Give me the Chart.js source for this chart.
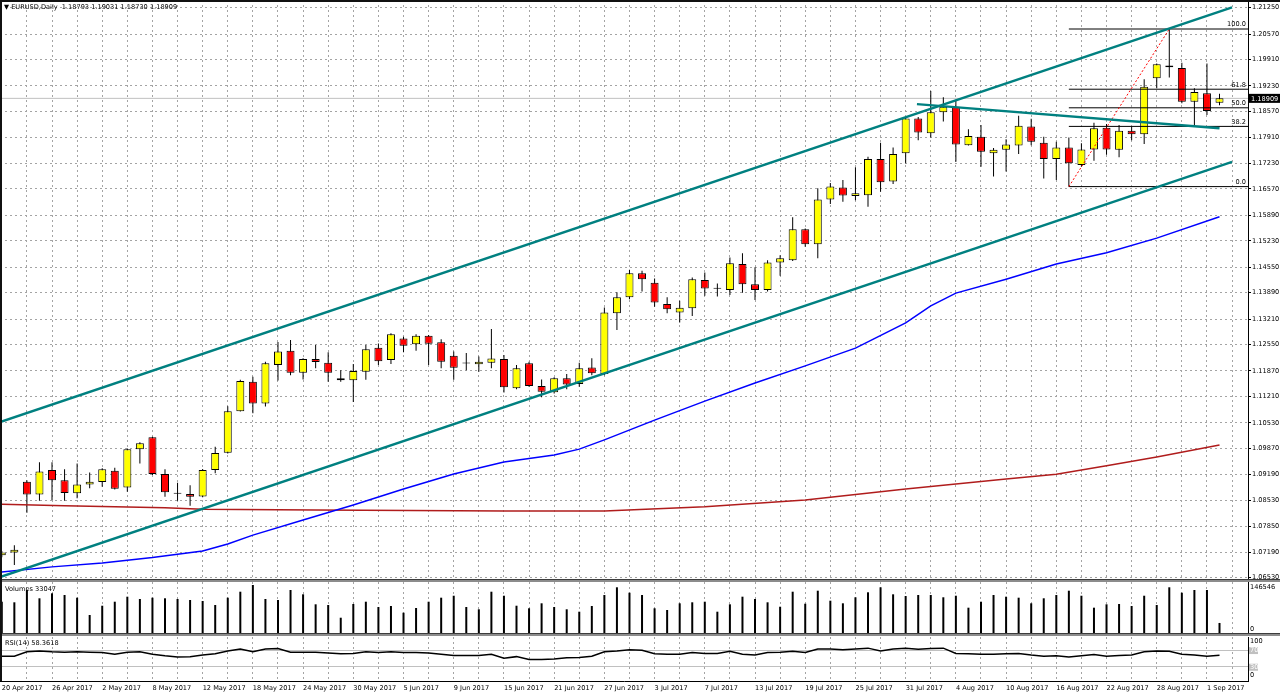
<!DOCTYPE html>
<html>
<head>
<meta charset="utf-8">
<title>EURUSD Daily</title>
<script src="https://cdn.jsdelivr.net/npm/chart.js@4.4.1/dist/chart.umd.min.js"></script>
<style>
html, body { margin: 0; padding: 0; background: #fff; }
#wrap { position: relative; width: 1280px; height: 696px; overflow: hidden; background: #fff; }
#wrap canvas { position: absolute; left: 0; }
.sep { position: absolute; left: 0; width: 1280px; height: 2px; background: #8c8c8c; border-top: 1px solid #3c3c3c; z-index: 3; }
.txt { position: absolute; font: 6.6px "DejaVu Sans", sans-serif; line-height: 8px; color: #000; white-space: pre; z-index: 4; }
.frame-top { position: absolute; left: 0; top: 0; width: 1280px; height: 2px; background: #111; z-index: 5; }
.frame-left { position: absolute; left: 0; top: 0; width: 2px; height: 681px; background: #111; z-index: 5; }
</style>
</head>
<body>
<div id="wrap">
  <canvas id="main" width="1280" height="580" style="top:0px"></canvas>
  <canvas id="vol" width="1280" height="52" style="top:582px"></canvas>
  <canvas id="rsi" width="1280" height="59" style="top:637px"></canvas>
  <div class="sep" style="top:579px"></div>
  <div class="sep" style="top:633px"></div>
  <div class="frame-top"></div>
  <div class="frame-left"></div>
  <div class="txt" id="hdr" style="left:4px; top:3px"></div>
  <div class="txt" id="volTxt" style="left:5px; top:585px"></div>
  <div class="txt" id="rsiTxt" style="left:5px; top:639px"></div>
</div>
<script>
// daily bars, 20 Apr 2017 .. 4 Sep 2017 (bar index = x)
const dateLabels = ['20 Apr 2017', '26 Apr 2017', '2 May 2017', '8 May 2017', '12 May 2017', '18 May 2017',
  '24 May 2017', '30 May 2017', '5 Jun 2017', '9 Jun 2017', '15 Jun 2017', '21 Jun 2017', '27 Jun 2017',
  '3 Jul 2017', '7 Jul 2017', '13 Jul 2017', '19 Jul 2017', '25 Jul 2017', '31 Jul 2017', '4 Aug 2017',
  '10 Aug 2017', '16 Aug 2017', '22 Aug 2017', '28 Aug 2017', '1 Sep 2017'];

const opens = [
  1.0711, 1.0718, 1.0901, 1.0868, 1.0931, 1.0905, 1.0871, 1.0894, 1.0900, 1.0929,
  1.0886, 1.0985, 1.1016, 1.0921, 1.0870, 1.0869, 1.0863, 1.0931, 1.0976, 1.1083,
  1.1159, 1.1103, 1.1202, 1.1239, 1.1182, 1.1218, 1.1208, 1.1168, 1.1163, 1.1185,
  1.1247, 1.1215, 1.1271, 1.1256, 1.1278, 1.1261, 1.1226, 1.1206, 1.1204, 1.1208,
  1.1218, 1.1142, 1.1207, 1.1148, 1.1132, 1.1168, 1.1153, 1.1196, 1.1179, 1.1336,
  1.1377, 1.1439, 1.1415, 1.1360, 1.1338, 1.1349, 1.1422, 1.1399, 1.1396, 1.1463,
  1.1411, 1.1396, 1.1467, 1.1473, 1.1553, 1.1514, 1.1630, 1.1661, 1.1639, 1.1641,
  1.1734, 1.1676, 1.1749, 1.1839, 1.1801, 1.1855, 1.1869, 1.1770, 1.1792, 1.1749,
  1.1758, 1.1769, 1.1818, 1.1776, 1.1734, 1.1764, 1.1719, 1.1759, 1.1815, 1.1758,
  1.1807, 1.1798, 1.1943, 1.1976, 1.1969, 1.1882, 1.1904, 1.18793];
const highs = [
  1.0722, 1.0737, 1.0905, 1.0951, 1.0951, 1.0933, 1.0948, 1.0925, 1.0936, 1.0937,
  1.0987, 1.1003, 1.1017, 1.0933, 1.0898, 1.0892, 1.0934, 1.0991, 1.1096, 1.1164,
  1.1172, 1.1211, 1.1262, 1.1267, 1.1220, 1.1254, 1.1235, 1.1189, 1.1205, 1.1254,
  1.1258, 1.1284, 1.1275, 1.1282, 1.1280, 1.1269, 1.1237, 1.1233, 1.1224, 1.1295,
  1.1228, 1.1202, 1.1211, 1.1165, 1.1171, 1.1179, 1.1208, 1.1220, 1.1351, 1.1390,
  1.1448, 1.1446, 1.1426, 1.1377, 1.1368, 1.1428, 1.1441, 1.1413, 1.1480, 1.1491,
  1.1455, 1.1473, 1.1486, 1.1584, 1.1555, 1.1659, 1.1672, 1.1680, 1.1713, 1.1740,
  1.1776, 1.1764, 1.1842, 1.1843, 1.1910, 1.1894, 1.1887, 1.1811, 1.1822, 1.1763,
  1.1785, 1.1846, 1.1838, 1.1792, 1.1779, 1.1790, 1.1775, 1.1828, 1.1825, 1.1822,
  1.1818, 1.1940, 1.1981, 1.2070, 1.1983, 1.1917, 1.1981, 1.19031];
const lows = [
  1.0706, 1.0686, 1.0821, 1.0852, 1.0854, 1.0852, 1.0858, 1.0884, 1.0888, 1.0881,
  1.0875, 1.0948, 1.0918, 1.0862, 1.0852, 1.0839, 1.0861, 1.0923, 1.0974, 1.1082,
  1.1078, 1.1095, 1.1162, 1.1176, 1.1165, 1.1194, 1.1159, 1.1159, 1.1107, 1.1164,
  1.1202, 1.1205, 1.1235, 1.1239, 1.1202, 1.1194, 1.1164, 1.1189, 1.1185, 1.1194,
  1.1131, 1.1140, 1.1146, 1.1119, 1.1129, 1.1140, 1.1146, 1.1176, 1.1176, 1.1293,
  1.1372, 1.1392, 1.1353, 1.1336, 1.1312, 1.1329, 1.1381, 1.1379, 1.1383, 1.1389,
  1.1370, 1.1392, 1.1433, 1.1471, 1.1508, 1.1478, 1.1618, 1.1624, 1.1628, 1.1611,
  1.1650, 1.1670, 1.1723, 1.1783, 1.1790, 1.1831, 1.1727, 1.1769, 1.1714, 1.1689,
  1.1702, 1.1747, 1.1770, 1.1684, 1.1680, 1.1663, 1.1714, 1.1730, 1.1745, 1.1739,
  1.1783, 1.1773, 1.1917, 1.1945, 1.1878, 1.1818, 1.1848, 1.18730];
const closes = [
  1.0718, 1.0725, 1.0868, 1.0927, 1.0905, 1.0872, 1.0894, 1.0901, 1.0933, 1.0883,
  1.0985, 1.1000, 1.0921, 1.0874, 1.0870, 1.0862, 1.0931, 1.0975, 1.1083, 1.1161,
  1.1103, 1.1207, 1.1237, 1.1182, 1.1218, 1.1210, 1.1182, 1.1163, 1.1187, 1.1243,
  1.1212, 1.1282, 1.1252, 1.1278, 1.1257, 1.1211, 1.1195, 1.1206, 1.1211, 1.1219,
  1.1145, 1.1194, 1.1148, 1.1133, 1.1168, 1.1152, 1.1194, 1.1181, 1.1338, 1.1377,
  1.1439, 1.1424, 1.1364, 1.1346, 1.1350, 1.1424, 1.1400, 1.1399, 1.1465, 1.1411,
  1.1396, 1.1467, 1.1478, 1.1553, 1.1514, 1.1630, 1.1663, 1.1640, 1.1646, 1.1734,
  1.1674, 1.1747, 1.1839, 1.1803, 1.1855, 1.1869, 1.1772, 1.1794, 1.1753, 1.1758,
  1.1772, 1.1820, 1.1779, 1.1734, 1.1764, 1.1723, 1.1759, 1.1814, 1.1759, 1.1807,
  1.1798, 1.1921, 1.1979, 1.1971, 1.1882, 1.1907, 1.1858, 1.18909];
const volumes = [
  96600, 94800, 131600, 106800, 121700, 116600, 108600, 56800, 84600, 96600,
  111600, 104700, 108600, 106800, 104700, 101700, 98700, 86700, 108600, 126500,
  146546, 104700, 101700, 131600, 118700, 88800, 86700, 48700, 89700, 96600,
  80700, 83700, 63700, 77800, 96600, 108600, 114500, 80700, 73900, 126500,
  114500, 84600, 76900, 91800, 80700, 73900, 66700, 83700, 116600, 139700,
  123500, 116600, 76900, 71800, 91800, 94800, 96600, 66700, 88800, 111600,
  104700, 94800, 81600, 126500, 90600, 129500, 99600, 91800, 109800, 124700,
  139700, 118700, 113600, 116600, 116600, 109800, 114500, 78700, 96600, 116600,
  111600, 108600, 91800, 106800, 116600, 129500, 114500, 78700, 88800, 89700,
  83700, 114500, 86700, 139700, 123500, 131600, 131600, 33047];
const rsi = [
  56, 56, 67, 69, 67, 66, 67, 66, 65, 61,
  66, 67, 61, 57, 54, 55, 59, 62, 69, 74,
  67, 74, 75, 66, 66, 66, 64, 62, 63, 67,
  65, 67, 65, 65, 64, 61, 58, 58, 58, 61,
  51, 55, 48, 48, 49, 52, 53, 56, 67, 69,
  72, 71, 62, 61, 61, 65, 63, 63, 68, 61,
  59, 65, 66, 68, 65, 74, 74, 72, 74, 76,
  69, 74, 76, 73, 75, 76, 63, 62, 61, 61,
  62, 63, 59, 56, 57, 54, 57, 60, 56, 58,
  59, 67, 69, 68, 61, 59, 56, 58.3618];

// moving averages at a few bars
const maFastBars = [0, 4, 8, 12, 16, 18, 20, 24, 28, 32, 36, 40, 44, 46, 48, 52, 56, 60, 64, 68, 72, 74, 76, 80, 84, 88, 92, 97];
const maFast = [1.0668, 1.0681, 1.0691, 1.0705, 1.0722, 1.0740, 1.0763, 1.0802, 1.0841, 1.0882, 1.0921, 1.0952,
  1.0970, 1.0985, 1.1009, 1.1060, 1.1109, 1.1156, 1.1200, 1.1246, 1.1311, 1.1355, 1.1388, 1.1424, 1.1463,
  1.1492, 1.1530, 1.1585];
const maSlowBars = [0, 5, 13, 16, 25, 40, 48, 56, 64, 72, 80, 84, 88, 92, 97];
const maSlow = [1.0843, 1.0839, 1.0834, 1.0830, 1.0828, 1.0825, 1.0825, 1.0836, 1.0854, 1.0882, 1.0908, 1.0920,
  1.0942, 1.0965, 1.0996];

// drawn objects
const channelBars = [-0.14, 98];
const channelUpper = [1.1055, 1.2126];
const channelLower = [1.0655, 1.1727];
const flatBars = [72.9, 97];
const flatLine = [1.1876, 1.1814];
const fibBars = [85, 93];
const fibLow = 1.1663, fibHigh = 1.2070;
const fibLevels = [0, 38.2, 50, 61.8, 100];

const priceTicks = [1.21250, 1.20570, 1.19910, 1.19230, 1.18570, 1.17910, 1.17230, 1.16570, 1.15890, 1.15230,
  1.14550, 1.13890, 1.13210, 1.12550, 1.11870, 1.11210, 1.10530, 1.09870, 1.09190, 1.08530, 1.07850,
  1.07190, 1.06530];
const rsiLevels = [30, 70];

const X_MIN = -0.143, X_MAX = 99.27;
const FONT = { family: 'DejaVu Sans', size: 6.6 };
const FONT_CSS = '6.6px "DejaVu Sans"';
const GRID = '#a4a4a4';
const last = closes.length - 1;
const fibValue = l => fibLow + (fibHigh - fibLow) * l / 100;
const pts = (xs, ys) => xs.map((x, i) => ({ x: x, y: ys[i] }));

const gridBars = [];
for (let i = 0; i <= 98; i += 2) gridBars.push(i);

function xAxis(showDates) {
  return {
    type: 'linear', min: X_MIN, max: X_MAX, offset: false,
    afterBuildTicks: s => { s.ticks = gridBars.map(v => ({ value: v })); },
    afterFit: s => { s.height = showDates ? 15 : 0; s.paddingLeft = 0; s.paddingRight = 0; },
    grid: { color: GRID, offset: false, drawTicks: false },
    border: { display: showDates, color: '#000', dash: [2, 3] },
    ticks: {
      display: showDates, autoSkip: false, maxRotation: 0, minRotation: 0, align: 'start',
      padding: 3, font: FONT, color: '#000',
      callback: v => (v % 4 === 0 && dateLabels[v / 4]) || ''
    }
  };
}

function fitRight(s) { s.width = 32; s.paddingTop = 0; s.paddingBottom = 0; }

function baseOptions(yAxis, showDates) {
  return {
    responsive: false, animation: false, events: [],
    layout: { padding: 0 },
    plugins: { legend: { display: false }, tooltip: { enabled: false } },
    scales: { x: xAxis(showDates), y: yAxis }
  };
}

function sideText(items) {
  return {
    id: 'sideText',
    afterDraw(chart) {
      const { ctx, chartArea: a, scales: { y } } = chart;
      ctx.save();
      ctx.font = FONT_CSS;
      ctx.textBaseline = 'middle';
      ctx.textAlign = 'left';
      items.forEach(it => {
        const py = y.getPixelForValue(it.value) + it.dy;
        if (it.box) { ctx.fillStyle = it.box; ctx.fillRect(a.right + 1, py - 3.5, 9, 7); }
        ctx.fillStyle = it.color || '#000';
        ctx.fillText(it.text, a.right + 2, py);
      });
      ctx.restore();
    }
  };
}

const mainText = {
  id: 'mainText',
  afterDraw(chart) {
    const { ctx, chartArea: a, scales: { y } } = chart;
    ctx.save();
    ctx.font = FONT_CSS;
    ctx.fillStyle = '#000';
    ctx.textAlign = 'right';
    ctx.textBaseline = 'bottom';
    fibLevels.forEach(l => ctx.fillText(l.toFixed(1), a.right - 2, y.getPixelForValue(fibValue(l)) - 1));
    const py = y.getPixelForValue(closes[last]);
    ctx.fillRect(a.right + 1, py - 4.5, 31, 9);
    ctx.fillStyle = '#fff';
    ctx.textAlign = 'left';
    ctx.textBaseline = 'middle';
    ctx.fillText(closes[last].toFixed(5), a.right + 3, py + 0.5);
    ctx.restore();
  }
};

const lineSet = (data, color, width, order, dash) => ({
  type: 'line', data: data, borderColor: color, borderWidth: width, borderDash: dash || [],
  pointRadius: 0, tension: 0, fill: false, order: order
});

const bodyColors = opens.map((o, i) => closes[i] > o ? '#ffff00' : (closes[i] < o ? '#ff0000' : '#000000'));

const mainSets = [
  lineSet(pts(channelBars, channelUpper), '#008080', 2.5, 0),
  lineSet(pts(channelBars, channelLower), '#008080', 2.5, 0),
  lineSet(pts(flatBars, flatLine), '#008080', 2.5, 0),
  lineSet(pts(fibBars, [fibLow, fibHigh]), '#ff0000', 1, 1, [2, 2]),
  ...fibLevels.map(l => lineSet(pts([fibBars[0], X_MAX], [fibValue(l), fibValue(l)]), '#000', 1, 1)),
  lineSet(pts(maFastBars, maFast), '#0000ff', 1.5, 2),
  lineSet(pts(maSlowBars, maSlow), '#b01c1c', 1.5, 2),
  {
    type: 'bar', order: 3, grouped: false, maxBarThickness: 8, minBarLength: 1,
    data: opens.map((o, i) => ({ x: i, y: [o, closes[i]] })),
    backgroundColor: bodyColors, borderColor: '#000', borderWidth: 1, borderSkipped: false
  },
  {
    type: 'bar', order: 4, grouped: false, maxBarThickness: 1,
    data: lows.map((l, i) => ({ x: i, y: [l, highs[i]] })),
    backgroundColor: '#000', borderWidth: 0
  },
  lineSet(pts([X_MIN, X_MAX], [closes[last], closes[last]]), '#c0c0c0', 1, 5)
];

new Chart(document.getElementById('main'), {
  type: 'bar',
  data: { datasets: mainSets },
  options: baseOptions({
    position: 'right', min: 1.06471, max: 1.21449,
    afterBuildTicks: s => { s.ticks = priceTicks.map(v => ({ value: v })); },
    afterFit: fitRight,
    grid: { color: GRID, drawTicks: true, tickLength: 3, tickColor: '#000', tickWidth: 1 },
    border: { display: true, color: '#000', width: 1, dash: [2, 3] },
    ticks: { font: FONT, color: '#000', padding: 1, callback: v => v.toFixed(5) }
  }, false),
  plugins: [mainText]
});

const volPeak = Math.max(...volumes);
new Chart(document.getElementById('vol'), {
  type: 'bar',
  data: {
    datasets: [{
      data: volumes.map((v, i) => ({ x: i, y: v })),
      backgroundColor: '#000', maxBarThickness: 2, grouped: false, borderWidth: 0
    }]
  },
  options: baseOptions({
    position: 'right', min: 0, max: volPeak * 52 / 49,
    afterFit: fitRight,
    grid: { display: false },
    border: { display: true, color: '#000' },
    ticks: { display: false }
  }, false),
  plugins: [sideText([
    { text: String(volPeak), value: volPeak, dy: 2.5 },
    { text: '0', value: 0, dy: -4.5 }
  ])]
});

new Chart(document.getElementById('rsi'), {
  type: 'line',
  data: {
    datasets: [{
      data: rsi.map((v, i) => ({ x: i, y: v })),
      borderColor: '#000', borderWidth: 1.5, pointRadius: 0, tension: 0, fill: false
    }]
  },
  options: baseOptions({
    position: 'right', min: -5.2, max: 103.5,
    afterBuildTicks: s => { s.ticks = rsiLevels.map(v => ({ value: v })); },
    afterFit: fitRight,
    grid: { color: '#c0c0c0', drawTicks: false },
    border: { display: true, color: '#000' },
    ticks: { display: false }
  }, true),
  plugins: [sideText([
    { text: '100', value: 100, dy: 2.6 },
    { text: '70', value: 70, dy: 0, box: '#c0c0c0', color: '#fff' },
    { text: '30', value: 30, dy: 0.5, box: '#c0c0c0', color: '#fff' },
    { text: '0', value: 0, dy: -3.6 }
  ])]
});

document.getElementById('hdr').textContent = '\u25BC EURUSD,Daily  ' +
  [opens[last], highs[last], lows[last], closes[last]].map(v => v.toFixed(5)).join(' ');
document.getElementById('volTxt').textContent = 'Volumes ' + volumes[last];
document.getElementById('rsiTxt').textContent = 'RSI(14) ' + rsi[last].toFixed(4);
</script>
</body>
</html>
